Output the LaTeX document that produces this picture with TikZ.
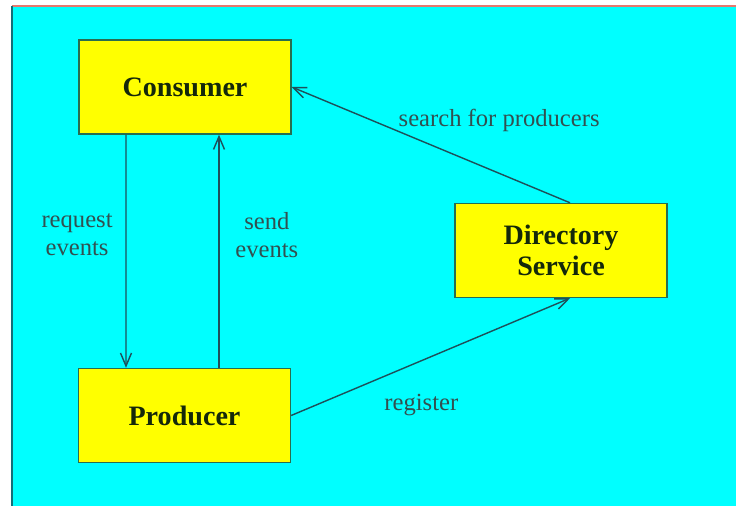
\documentclass[tikz,border=0pt]{standalone}
\usepackage{fontspec}
\setmainfont{Liberation Serif}
\usepackage{xcolor}
\usetikzlibrary{arrows.meta}
\definecolor{bgcyan}{RGB}{0,255,255}
\definecolor{boxyellow}{RGB}{255,255,0}
\definecolor{boxline}{RGB}{40,110,80}
\definecolor{boxtext}{RGB}{20,40,10}
\definecolor{lbltext}{RGB}{50,80,80}
\definecolor{arrowcol}{RGB}{30,80,90}
\definecolor{topline}{RGB}{230,120,110}
\definecolor{leftline}{RGB}{20,110,120}

\begin{document}
\begin{tikzpicture}[
    box/.style={draw=boxline,fill=boxyellow,minimum width=2.12cm,minimum height=0.94cm,
        font=\fontsize{8}{8.8}\selectfont\bfseries,text=boxtext,align=center},
    lbl/.style={font=\fontsize{7}{8}\selectfont,text=lbltext,align=center},
    flow/.style={->,draw=arrowcol,line width=0.4pt},
    >={Straight Barb[length=1.3mm,width=1.1mm]}]
    \useasboundingbox (0,0) rectangle (7.36,5.06);
    \fill[bgcyan] (0.12,0) rectangle (7.36,5.0);
    \draw[topline,line width=0.6pt] (0.12,5.0) -- (7.36,5.0);
    \draw[leftline,line width=0.6pt] (0.12,0) -- (0.12,5.0);
    % the three parties
    \node[box] (consumer) at (1.85,4.19) {Consumer};
    \node[box] (producer) at (1.845,0.905) {Producer};
    \node[box] (directory) at (5.61,2.555) {Directory\\Service};
    % messages
    \draw[flow] ([xshift=-0.59cm]consumer.south) -- ([xshift=-0.585cm]producer.north)
        node[lbl,pos=0.43,left=0.01cm] {request\\events};
    \draw[flow] ([xshift=0.345cm]producer.north) -- ([xshift=0.34cm]consumer.south)
        node[lbl,pos=0.57,right=0.04cm] {send\\events};
    \draw[flow] ([xshift=0.09cm]directory.north) -- (consumer.east)
        node[lbl,pos=0.66,anchor=base west] {search for producers};
    \draw[flow] (producer.east) -- ([xshift=0.09cm]directory.south)
        node[lbl,pos=0.29,anchor=north west] {register};
\end{tikzpicture}
\end{document}
